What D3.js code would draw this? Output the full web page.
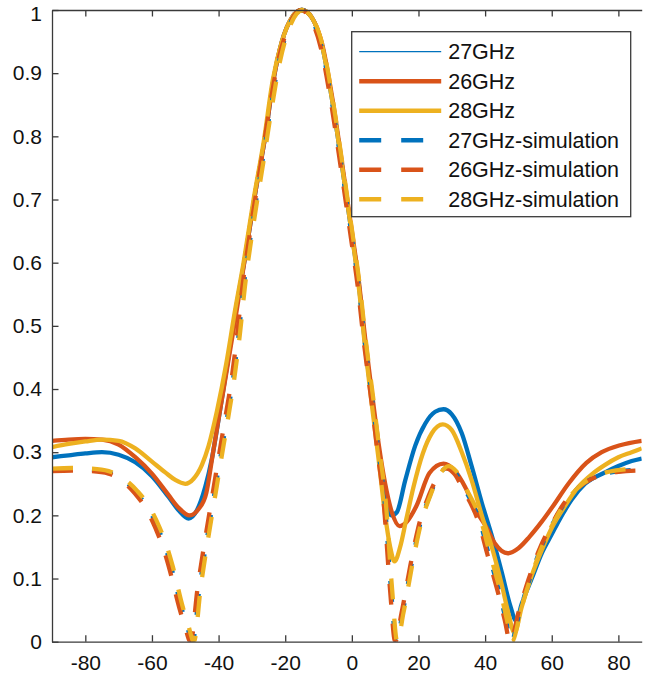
<!DOCTYPE html>
<html>
<head>
<meta charset="utf-8">
<script src="https://cdn.jsdelivr.net/npm/d3@7"></script>
<style>
  body { margin: 0; background: #fff; }
  svg { display: block; font-family: "Liberation Sans", Arial, sans-serif; }
</style>
</head>
<body>
<svg id="chart"></svg>
<script>
// angle (deg), normalized amplitude
var meas27 = [[-90,0.292],[-85,0.295],[-80,0.298],[-75,0.300],[-70,0.296],[-65,0.284],[-60,0.262],[-55,0.229],[-52,0.208],[-49,0.195],[-46.5,0.208],[-44,0.245],[-42,0.29],[-40,0.352],[-37.5,0.435],[-35,0.52],[-32,0.61],[-29,0.71],[-26,0.8],[-23.5,0.89],[-21,0.95],[-18,0.988],[-15,1],[-12,0.988],[-9,0.945],[-6,0.86],[-3,0.755],[0,0.645],[2,0.57],[4,0.47],[6,0.385],[8,0.305],[10,0.235],[11.8,0.2],[13.5,0.205],[16,0.255],[19,0.31],[22,0.345],[25,0.364],[27.5,0.368],[30,0.36],[33,0.33],[36,0.277],[39,0.22],[42,0.168],[45,0.11],[47.5,0.058],[49.3,0.033],[51,0.06],[54,0.1],[57,0.14],[60,0.17],[62,0.19],[66,0.225],[70,0.25],[76,0.268],[80,0.278],[84,0.286],[87,0.29]];
var meas26 = [[-90,0.318],[-85,0.32],[-80,0.321],[-75,0.32],[-70,0.312],[-65,0.292],[-60,0.266],[-55,0.232],[-52,0.212],[-48.7,0.2],[-46,0.21],[-43.7,0.235],[-41.7,0.298],[-39.7,0.362],[-37.2,0.44],[-34.7,0.52],[-32,0.61],[-29,0.71],[-26,0.8],[-23.5,0.89],[-21,0.95],[-18,0.988],[-15,1],[-12,0.988],[-9,0.948],[-6,0.865],[-3,0.76],[0,0.65],[2,0.575],[4,0.48],[6,0.395],[8,0.315],[10,0.25],[12,0.205],[14.3,0.183],[16.5,0.19],[19.3,0.214],[23.3,0.267],[27.5,0.282],[31,0.27],[34,0.245],[37,0.21],[40.3,0.182],[43,0.155],[46.8,0.14],[50,0.148],[53.3,0.166],[57,0.19],[60.3,0.214],[65,0.25],[70.4,0.283],[75,0.3],[80.5,0.311],[87,0.318]];
var meas28 = [[-90,0.308],[-85,0.313],[-80,0.317],[-75,0.32],[-70,0.318],[-65,0.306],[-60,0.285],[-56,0.268],[-53,0.256],[-50,0.25],[-47.5,0.258],[-45,0.28],[-43,0.31],[-40.5,0.365],[-37.7,0.44],[-35.2,0.52],[-32.5,0.6],[-29.5,0.7],[-26.5,0.79],[-23.7,0.89],[-21,0.95],[-18,0.988],[-15,1],[-12,0.988],[-9,0.945],[-6,0.86],[-3,0.755],[0,0.645],[2,0.565],[4,0.465],[6,0.375],[8,0.29],[10,0.2],[11.5,0.15],[12.8,0.127],[14.5,0.15],[16.3,0.193],[18.5,0.245],[21.3,0.298],[24,0.33],[27.3,0.344],[30,0.335],[33,0.3],[36,0.255],[39,0.2],[42,0.15],[45,0.09],[47,0.045],[48.8,0.014],[51,0.055],[54,0.105],[57,0.145],[60,0.18],[64,0.215],[68,0.245],[72,0.265],[76,0.28],[80,0.292],[84,0.3],[87,0.306]];

var sim27 = [[-90,0.272],[-84,0.273],[-78,0.272],[-73,0.268],[-69,0.258],[-64.7,0.236],[-61,0.21],[-58.2,0.18],[-56,0.15],[-54.2,0.118],[-51.2,0.055],[-49.5,0.025],[-47.8,0],[-45.7,0.087],[-43.7,0.156],[-41.7,0.22],[-39.7,0.284],[-37.6,0.35],[-35.7,0.414],[-34,0.485],[-32.5,0.56],[-30,0.655],[-27,0.755],[-24.5,0.84],[-22,0.915],[-19.5,0.965],[-17,0.993],[-15,1],[-12,0.985],[-9,0.94],[-6,0.855],[-3,0.75],[0,0.64],[2,0.565],[4,0.47],[6.2,0.38],[8,0.3],[9.8,0.224],[11.8,0.08],[13.3,0],[15.2,0.045],[18.2,0.13],[20.3,0.182],[23.3,0.23],[26,0.262],[28.7,0.276],[31,0.268],[34,0.24],[36.5,0.215],[38.3,0.192],[41,0.14],[44.3,0.077],[46.2,0.035],[47.8,0],[50.5,0.05],[53.3,0.098],[56.5,0.145],[60.3,0.187],[64,0.22],[68.3,0.245],[72,0.258],[76,0.266],[80.3,0.27],[87,0.272]];
var sim26 = [[-90,0.27],[-84,0.271],[-78,0.27],[-73,0.266],[-69,0.255],[-65,0.234],[-61.5,0.208],[-58.8,0.178],[-56.6,0.148],[-54.8,0.116],[-51.8,0.054],[-50.1,0.024],[-48.4,0],[-46.3,0.085],[-44.3,0.154],[-42.3,0.218],[-40.3,0.282],[-38.2,0.348],[-36.2,0.412],[-34.5,0.483],[-33,0.555],[-30.5,0.65],[-27.5,0.75],[-25,0.835],[-22.5,0.91],[-20,0.96],[-17.5,0.99],[-15.3,1],[-12.3,0.985],[-9.3,0.94],[-6.3,0.855],[-3.3,0.75],[-0.3,0.64],[1.7,0.565],[3.7,0.47],[5.9,0.38],[7.7,0.3],[9.5,0.224],[11.5,0.08],[13,0],[14.9,0.045],[17.9,0.13],[20,0.182],[23,0.23],[25.7,0.26],[28.4,0.274],[30.7,0.266],[33.7,0.238],[36.2,0.213],[38,0.19],[40.7,0.138],[44,0.075],[45.9,0.034],[47.5,0],[50.2,0.05],[53,0.098],[56.2,0.145],[60,0.186],[63.7,0.219],[68,0.244],[71.7,0.257],[75.7,0.265],[80,0.269],[87,0.271]];
var sim28 = [[-90,0.274],[-84,0.275],[-78,0.274],[-73,0.27],[-69,0.26],[-64.3,0.238],[-60.6,0.212],[-57.8,0.182],[-55.6,0.152],[-53.8,0.12],[-50.8,0.056],[-49.1,0.026],[-47.4,0],[-45.3,0.089],[-43.3,0.158],[-41.3,0.222],[-39.3,0.286],[-37.2,0.352],[-35.3,0.416],[-33.6,0.487],[-32.1,0.562],[-29.6,0.658],[-26.6,0.758],[-24.1,0.843],[-21.6,0.918],[-19.1,0.967],[-16.6,0.994],[-14.7,1],[-11.7,0.986],[-8.7,0.942],[-5.7,0.857],[-2.7,0.752],[0.3,0.642],[2.3,0.567],[4.3,0.472],[6.5,0.382],[8.3,0.302],[10.1,0.226],[12.1,0.082],[13.6,0],[15.5,0.046],[18.5,0.132],[20.6,0.184],[23.6,0.232],[26.3,0.264],[29,0.278],[31.3,0.27],[34.3,0.242],[36.8,0.217],[38.6,0.194],[41.3,0.142],[44.6,0.079],[46.5,0.036],[48.1,0],[50.8,0.052],[53.6,0.1],[56.8,0.147],[60.6,0.189],[64.3,0.222],[68.6,0.247],[72.3,0.26],[76.3,0.268],[80.6,0.272],[87,0.274]];

var xTicks = [-80, -60, -40, -20, 0, 20, 40, 60, 80];
var yTicks = [0, 0.1, 0.2, 0.3, 0.4, 0.5, 0.6, 0.7, 0.8, 0.9, 1];

// draw order as in the original figure (last one ends up on top)
var series = [
  { label: "27GHz", data: meas27, color: "#0072BD", dash: null, legendWidth: 1.2 },
  { label: "26GHz", data: meas26, color: "#D95319", dash: null, legendWidth: 4.5 },
  { label: "28GHz", data: meas28, color: "#EDB120", dash: null, legendWidth: 4.5 },
  { label: "27GHz-simulation", data: sim27, color: "#0072BD", dash: "21,19", legendWidth: 4.5 },
  { label: "26GHz-simulation", data: sim26, color: "#D95319", dash: "21,19", legendWidth: 4.5 },
  { label: "28GHz-simulation", data: sim28, color: "#EDB120", dash: "21,19", legendWidth: 4.5 }
];

var width = 660, height = 676;
var margin = { top: 10, right: 18.3, bottom: 34.3, left: 52 };

var svg = d3.select("#chart").attr("width", width).attr("height", height);

var x = d3.scaleLinear().domain([-90, 87]).range([margin.left, width - margin.right]);
var y = d3.scaleLinear().domain([0, 1]).range([height - margin.bottom, margin.top]);

svg.append("clipPath").attr("id", "plot-clip")
  .append("rect")
  .attr("x", margin.left).attr("y", margin.top - 4)
  .attr("width", x.range()[1] - margin.left)
  .attr("height", y.range()[0] - margin.top + 4);

var line = d3.line()
  .x(function (d) { return x(d[0]) })
  .y(function (d) { return y(d[1]) })
  .curve(d3.curveMonotoneX);

svg.append("g")
  .attr("clip-path", "url(#plot-clip)")
  .selectAll("path")
  .data(series)
  .enter().append("path")
    .attr("d", function (s) { return line(s.data) })
    .attr("fill", "none")
    .attr("stroke", function (s) { return s.color })
    .attr("stroke-width", 4.3)
    .attr("stroke-dasharray", function (s) { return s.dash })
    .attr("stroke-linejoin", "round");

// axes, ticks pointing inward like matlab
var axisColor = "#3a3a3a";
var tickLen = 6.5;

var xAxis = svg.append("g")
  .attr("transform", "translate(0," + y(0) + ")")
  .call(d3.axisBottom(x).tickValues(xTicks).tickSizeInner(-tickLen).tickSizeOuter(0).tickPadding(13)
    .tickFormat(function (d) { return String(d) }));

var xTop = svg.append("g")
  .attr("transform", "translate(0," + y(1) + ")")
  .call(d3.axisTop(x).tickValues(xTicks).tickSizeInner(-tickLen).tickSizeOuter(0).tickFormat(""));

var yAxis = svg.append("g")
  .attr("transform", "translate(" + x(-90) + ",0)")
  .call(d3.axisLeft(y).tickValues(yTicks).tickSizeInner(-tickLen).tickSizeOuter(0).tickPadding(10)
    .tickFormat(function (d) { return String(d) }));

[xAxis, xTop, yAxis].forEach(function (g) {
  g.select(".domain").attr("stroke", axisColor).attr("stroke-width", 1.3);
  g.selectAll(".tick line").attr("stroke", axisColor).attr("stroke-width", 1.3);
  g.selectAll(".tick text").attr("fill", "#111").attr("font-size", 21)
    .attr("font-family", "'Liberation Sans', Arial, sans-serif");
});

// the top label sits a bit lower than its tick in the original
yAxis.selectAll(".tick text")
  .filter(function (d) { return d === 1 })
  .attr("y", 4);

// legend
var legend = svg.append("g").attr("transform", "translate(351.7,31.7)");
legend.append("rect")
  .attr("width", 279).attr("height", 185)
  .attr("fill", "#fff").attr("stroke", axisColor).attr("stroke-width", 1.3);

var rows = legend.selectAll("g.row")
  .data(series)
  .enter().append("g")
    .attr("class", "row")
    .attr("transform", function (s, i) { return "translate(0," + (20 + i * 29.5) + ")" });

rows.append("line")
  .attr("x1", 7.5).attr("x2", 89.5)
  .attr("stroke", function (s) { return s.color })
  .attr("stroke-width", function (s) { return s.legendWidth })
  .attr("stroke-dasharray", function (s) { return s.dash ? "22,20" : null });

rows.append("text")
  .attr("x", 96.5)
  .attr("dy", "0.36em")
  .attr("font-size", 21.5)
  .attr("fill", "#111")
  .text(function (s) { return s.label });
</script>
</body>
</html>
